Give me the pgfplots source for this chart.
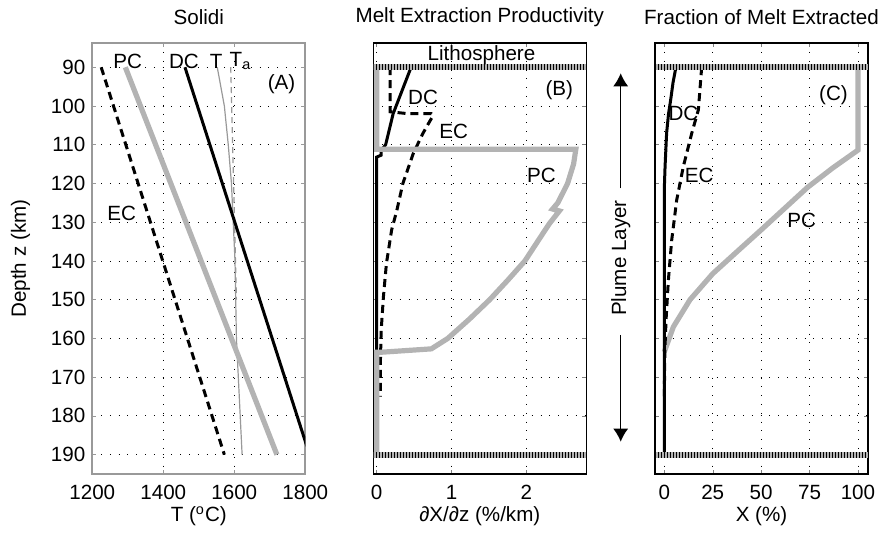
\documentclass[border=0pt]{standalone}
\usepackage{fontspec}
\setmainfont{Liberation Sans}
\usepackage{pgfplots}
\pgfplotsset{compat=1.18}
\usetikzlibrary{arrows.meta}

\definecolor{pcgray}{HTML}{B3B3B3}
\definecolor{tgray}{HTML}{999999}

\pgfplotsset{
  panel/.style={
    width=106.5pt, height=215.4pt, scale only axis,
    y dir=reverse, ymin=83.8, ymax=195,
    ytick={90,100,...,190},
    grid=major,
    grid style={black, line width=0.4pt, dash pattern=on 0.4pt off 4pt},
    tick align=inside, tick pos=both,
    major tick length=2pt,
    axis line style={line width=0.8pt},
    font=\fontsize{10.3}{12}\selectfont,
    /pgf/number format/assume math mode=true,
    /pgf/number format/1000 sep={},
    scaled x ticks=false,
    title style={at={(rel axis cs:0.5,1)}, anchor=center, yshift=7.1pt},
    xlabel style={at={(axis description cs:0.5,0)}, anchor=center, yshift=-21pt},
    xticklabel style={yshift=-2pt},
    anchor=south west,
  },
  hatch/.style={black, line width=3pt, dash pattern=on 0.45pt off 1.05pt},
  band/.style={pcgray, line width=3pt},
}

\begin{document}
\begin{tikzpicture}

% (A) solidi
\begin{axis}[panel, name=A, at={(0pt,0pt)},
  xmin=1200, xmax=1800, xtick={1200,1400,1600,1800},
  axis line style={gray!80}, tick style={gray!80},
  title={Solidi}, xlabel={T (\textsuperscript{o}C)}, ylabel={Depth z (km)},
  ylabel style={at={(axis description cs:-0.337,0.5)}, anchor=center},
]
\addplot[tgray, line width=0.6pt] coordinates {(1552,90) (1572,100) (1583,110) (1592,120) (1597,130) (1602,140) (1606,160) (1614,175) (1622,190)};
\addplot[tgray, line width=0.6pt, dash pattern=on 3pt off 2pt] coordinates {(1590,90) (1606,150)};
\addplot[pcgray, line width=2.6pt] coordinates {(1293,90) (1720,190)};
\addplot[black, line width=1.5pt] coordinates {(1461,90) (1812,190)};
\addplot[black, line width=1.5pt, dash pattern=on 4pt off 2.5pt] coordinates {(1225,90) (1572,190)};
\node at (axis cs:1300,88.5) {PC};
\node at (axis cs:1458,88.5) {DC};
\node at (axis cs:1549,88.5) {T};
\node[anchor=west, inner sep=0pt] at (axis cs:1586,88.5) {T\textsubscript{a}};
\node at (axis cs:1733,94.5) {(A)};
\node at (axis cs:1283,127.7) {EC};
\end{axis}

% (B) melt extraction productivity
\begin{axis}[panel, name=B, at={(140.5pt,0pt)},
  xmin=-0.045, xmax=2.8, xtick={0,1,2}, yticklabels={},
  title={Melt Extraction Productivity}, xlabel={∂X/∂z (\%/km)},
]
\addplot[black, line width=1.5pt] coordinates {(0.46,90) (0.38,94) (0.3,98) (0.22,102) (0.17,106) (0.12,110) (0.06,111.5) (0.06,112.7) (0.0,113.2) (0,190)};
\addplot[black, line width=1.5pt, dash pattern=on 4pt off 2.5pt] coordinates {(0.18,90) (0.18,101.5) (0.42,102) (0.73,102) (0.75,102.6) (0.69,104.6) (0.62,107) (0.49,112.2) (0.35,120) (0.27,126.9) (0.2,132) (0.13,140.7) (0.09,149.3) (0.06,158) (0.05,166) (0.05,175)};
\addplot[pcgray, line width=2.6pt] coordinates {(0,90) (0,111.2) (2.66,111.2) (2.63,115) (2.55,120) (2.42,125) (2.35,126.6) (2.44,127.1) (2.31,130.3) (2.2,133.5) (1.98,140) (1.75,145) (1.51,150) (1.24,155) (0.95,160) (0.73,162.7) (0.04,163.6) (0,163.6) (0,190)};
\addplot[band] coordinates {(-0.045,90) (2.8,90)};
\addplot[hatch] coordinates {(-0.045,90) (2.8,90)};
\addplot[band] coordinates {(-0.045,190) (2.8,190)};
\addplot[hatch] coordinates {(-0.045,190) (2.8,190)};
\node at (axis cs:1.4,86.8) {Lithosphere};
\node at (axis cs:2.44,95.8) {(B)};
\node at (axis cs:0.62,97.9) {DC};
\node at (axis cs:1.03,106.6) {EC};
\node at (axis cs:2.2,117.8) {PC};
\end{axis}

% (C) fraction of melt extracted
\begin{axis}[panel, name=C, at={(281.35pt,0pt)},
  xmin=-4.8, xmax=105.2, xtick={0,25,50,75,100}, yticklabels={},
  title={Fraction of Melt Extracted}, xlabel={X (\%)},
]
\addplot[pcgray, line width=2.6pt] coordinates {(100,90) (100,111.4) (87,116) (74,121) (62,126.5) (50,132) (40,136.5) (25,143.3) (13.3,150) (4.7,157) (1.2,161.8) (0,163.5)};
\addplot[black, line width=1.5pt, dash pattern=on 4pt off 2.5pt] coordinates {(19.3,90) (17.6,101) (14.2,107) (9.8,115.7) (6.4,124.3) (3.8,134.7) (2.1,145) (0.9,155.3) (0.3,163) (0,175)};
\addplot[black, line width=1.5pt] coordinates {(6,90) (4.5,94) (3.3,98.4) (2.2,102) (1.2,107) (0.4,115.6) (0.1,120) (0,125) (0,190)};
\addplot[band] coordinates {(-4.8,90) (105.2,90)};
\addplot[hatch] coordinates {(-4.8,90) (105.2,90)};
\addplot[band] coordinates {(-4.8,190) (105.2,190)};
\addplot[hatch] coordinates {(-4.8,190) (105.2,190)};
\node at (axis cs:87.4,97.1) {(C)};
\node at (axis cs:9.9,101.9) {DC};
\node at (axis cs:18,117.8) {EC};
\node at (axis cs:71,129.5) {PC};
\end{axis}

% plume layer arrow
\draw[line width=0.6pt, -{Latex[length=6.5pt,width=7.5pt]}] (264.2pt,142.85pt) -- (264.2pt,200.35pt);
\draw[line width=0.6pt, -{Latex[length=6.5pt,width=7.5pt]}] (264.2pt,69.5pt) -- (264.2pt,16.15pt);
\node[rotate=90, font=\fontsize{10.3}{12}\selectfont] at (264.2pt,108pt) {Plume Layer};

\pgfresetboundingbox
\path[use as bounding box] (-46.15pt,-29.5pt) rectangle (392.85pt,237pt);
\end{tikzpicture}
\end{document}
